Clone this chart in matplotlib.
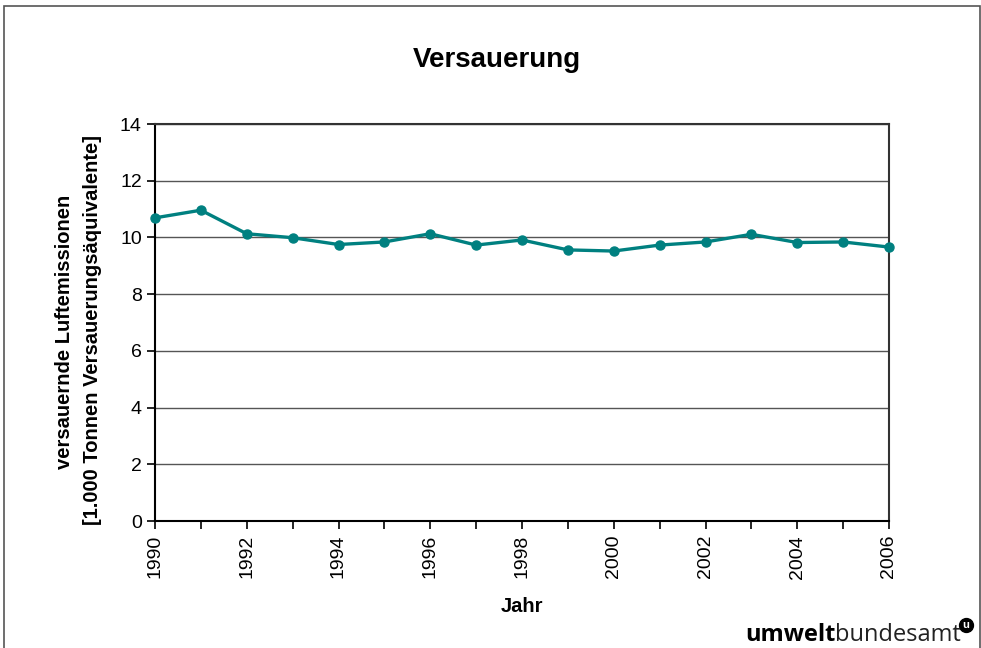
import matplotlib
matplotlib.use('Agg')
import matplotlib.pyplot as plt
from matplotlib.lines import Line2D
from matplotlib.patches import Rectangle

plt.rcParams['font.family'] = ['Liberation Sans', 'DejaVu Sans']

years = list(range(1990, 2007))
emissions = [10.69, 10.96, 10.13, 9.99, 9.75, 9.84, 10.13, 9.73, 9.91,
             9.56, 9.52, 9.73, 9.84, 10.11, 9.82, 9.84, 9.66]
year_ticks = list(range(1990, 2007, 2))
y_ticks = list(range(0, 15, 2))

W, H = 981, 648
fig = plt.figure(figsize=(W / 100, H / 100), dpi=100)
ax = fig.add_axes([155 / W, 1 - 521 / H, (889 - 155) / W, (521 - 124) / H])

# outer frame of the chart area
fig.add_artist(Rectangle((4 / W, -0.05), (980 - 4) / W, 1.05 - 6 / H,
                         transform=fig.transFigure, fill=False,
                         edgecolor='#555555', linewidth=1.2, clip_on=False))

ax.plot(years, emissions, color='#008080', linewidth=2.4, marker='o',
        markersize=6.5, zorder=3, clip_on=False)

ax.set_xlim(1990, 2006)
ax.set_ylim(0, 14)
ax.set_yticks(y_ticks)
ax.set_xticks(years)
ax.set_xticklabels([str(y) if y in year_ticks else '' for y in years],
                   rotation=90)
ax.tick_params(axis='both', direction='out', length=6, width=1.2,
               labelsize=14, color='black')
ax.tick_params(axis='x', pad=4)
ax.yaxis.grid(True, color='#555555', linewidth=1)
ax.set_axisbelow(True)
for s in ax.spines.values():
    s.set_linewidth(1.5)
    s.set_color('black')
ax.spines['top'].set_color('#333333')
ax.spines['right'].set_color('#333333')

fig.text(497 / W, 1 - 60 / H, 'Versauerung', ha='center', va='center',
         fontsize=20, fontweight='bold')
fig.text(65 / W, 1 - 332 / H, 'versauernde Luftemissionen', rotation=90,
         ha='center', va='center', fontsize=14.5, fontweight='bold')
fig.text(93 / W, 1 - 330 / H, '[1.000 Tonnen Versauerungsäquivalente]',
         rotation=90, ha='center', va='center', fontsize=14.5,
         fontweight='bold')
fig.text(522 / W, 1 - 607 / H, 'Jahr', ha='center', va='center',
         fontsize=14.5, fontweight='bold')

# logo
renderer = fig.canvas.get_renderer()
t1 = fig.text(745 / W, 1 - 641 / H, 'umwelt', ha='left', va='baseline',
              fontsize=17, fontweight='bold', family=['Open Sans', 'DejaVu Sans'])
bb = t1.get_window_extent(renderer)
t2 = fig.text(bb.x1 / W, 1 - 641 / H, 'bundesamt', ha='left', va='baseline',
              fontsize=17, family=['Open Sans', 'DejaVu Sans'], color='#222222')
bb2 = t2.get_window_extent(renderer)
lx, ly = (bb2.x1 + 5) / W, 1 - 625 / H
fig.add_artist(Line2D([lx], [ly], marker='o', markersize=10, color='black',
                      transform=fig.transFigure))
fig.text(lx, ly, 'u', ha='center', va='center', fontsize=8,
         fontweight='bold', color='white')

fig.savefig('out.png', dpi=100)
